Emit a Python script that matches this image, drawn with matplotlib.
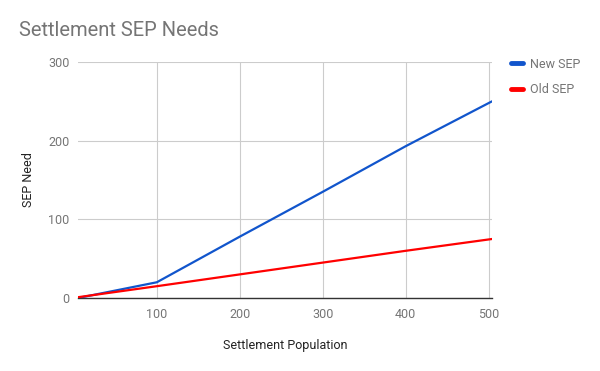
import numpy as np
import matplotlib
matplotlib.use("Agg")
import matplotlib.pyplot as plt

plt.rcParams['font.family'] = ['Roboto', 'DejaVu Sans']

# data
population = [5, 100, 200, 300, 400, 504]
new_sep = [0, 20, 78, 135, 193, 250]
old_sep = [1, 15, 30, 45, 60, 75]
x_ticks = [100, 200, 300, 400, 500]
y_ticks = [0, 100, 200, 300]

fig = plt.figure(figsize=(6, 3.71), dpi=100)
ax = fig.add_axes([78 / 600, 1 - 298 / 371, (492 - 78) / 600, (298 - 62) / 371])

ax.plot(population, new_sep, color='#1155cc', lw=1.6, label='New SEP', solid_capstyle='round')
ax.plot(population, old_sep, color='#ff0000', lw=1.6, label='Old SEP', solid_capstyle='round')

ax.set_xlim(5, 504)
ax.set_ylim(0, 300)
ax.set_xticks(x_ticks)
ax.set_yticks(y_ticks)
ax.grid(True, color='#cccccc', lw=0.8)
ax.set_axisbelow(True)
for s in ['top', 'right', 'left']:
    ax.spines[s].set_visible(False)
ax.spines['bottom'].set_color('#333333')
ax.spines['bottom'].set_linewidth(1.0)
ax.spines['bottom'].set_zorder(1.5)
ax.tick_params(length=0, labelsize=9, labelcolor='#757575', pad=6)
ax.tick_params(axis='x', pad=7)

ax.set_xlabel('Settlement Population', fontsize=9, color='#222222', labelpad=13)
ax.set_ylabel('SEP Need', fontsize=9, color='#222222', labelpad=9.5)

fig.text(19 / 600, 1 - 31 / 371, 'Settlement SEP Needs', fontsize=14.5,
         color='#757575', va='center', ha='left')

leg = ax.legend(loc='upper left', bbox_to_anchor=(1.035, 1.04), frameon=False,
                fontsize=9, handlelength=0.95, handletextpad=0.5, labelspacing=1.0,
                borderaxespad=0)
for t in leg.get_texts():
    t.set_color('#757575')
for h in leg.get_lines():
    h.set_linewidth(3.5)

fig.savefig('out.png', dpi=100)
